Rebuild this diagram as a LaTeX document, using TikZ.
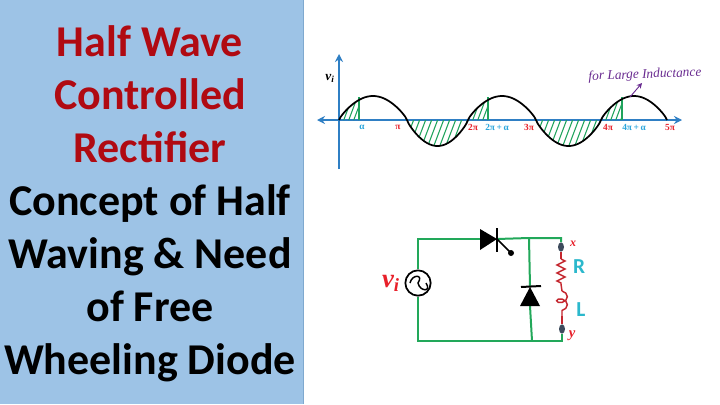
\documentclass[tikz,border=0pt]{standalone}
\usepackage{fontspec}
\setmainfont{Carlito}
\newfontfamily\handfont{Liberation Serif}
\usetikzlibrary{arrows.meta,shapes.geometric,decorations.pathmorphing}
\definecolor{panelBlue}{HTML}{9DC3E6}
\definecolor{panelEdge}{HTML}{7FA9CF}
\definecolor{titleRed}{HTML}{B00A12}
\definecolor{axisBlue}{HTML}{2F7FC4}
\definecolor{hatchGreen}{HTML}{1FA35C}
\definecolor{wireGreen}{HTML}{22A85A}
\definecolor{labelRed}{HTML}{E8202A}
\definecolor{labelBlue}{HTML}{2AA5DC}
\definecolor{labelCyan}{HTML}{2BB8CC}
\definecolor{coilRed}{HTML}{C4262E}
\definecolor{notePurple}{HTML}{6A2C91}
\definecolor{terminalGray}{HTML}{3D4A5C}
\tikzset{
  titleline/.style={font=\fontsize{33}{33}\selectfont\bfseries, inner sep=0pt, anchor=base},
  axisline/.style={axisBlue, line width=1.3pt, {Stealth[length=6pt,width=6pt]}-{Stealth[length=6pt,width=6pt]}},
  wave/.style={black, line width=1.3pt},
  hatchline/.style={hatchGreen, line width=0.8pt},
  tick/.style={font=\handfont\fontsize{7}{7}\selectfont\bfseries, inner sep=0pt},
  wire/.style={wireGreen, line width=1.5pt},
  load/.style={coilRed, line width=1.1pt},
  terminal/.style={draw=none, fill=terminalGray, ellipse, minimum width=4.5pt, minimum height=7pt, inner sep=0pt},
  handlabel/.style={font=\handfont\itshape\bfseries\fontsize{#1}{#1}\selectfont, inner sep=0pt},
  % half-cycle between x=#1 and x=#2 with height #3
  lobe/.style n args={3}{insert path={plot[domain=#1:#2, samples=40] ({\x},{120-#3*pow(abs(sin(180*(\x-#1)/(#2-#1))),0.8)})}},
}
\begin{document}
\begin{tikzpicture}[x=0.75pt, y=-0.75pt]
    \useasboundingbox (0,0) rectangle (720,404);
    \fill[white] (0,0) rectangle (720,404);
    \fill[panelBlue] (0,0) rectangle (303,404);
    \draw[panelEdge, line width=0.6pt] (303,0) -- (303,404);

    % title
    \foreach \i/\ypos/\col/\txt in {1/56/titleRed/Half Wave, 2/109/titleRed/Controlled, 3/162/titleRed/Rectifier,
        4/215/black/Concept of Half, 5/268/black/Waving \& Need, 6/321/black/of Free, 7/374/black/Wheeling Diode}
      \node[titleline, text=\col] (title\i) at (150,\ypos) {\txt};

    % axes
    \coordinate (xleft) at (317,120);
    \coordinate (xright) at (682,120);
    \coordinate (ytop) at (339,54);
    \coordinate (ybot) at (339,169);
    \draw[axisline] (xleft) -- (xright);
    \draw[axisline, -{Stealth[length=6pt,width=6pt]}] (ybot) -- (ytop);
    \node[handlabel=10] (vaxis) at (330,78) {v\textsubscript{i}};

    % hatching, positive parts up to alpha
    \foreach \a/\b/\c in {339/407/359, 468/536/488, 601/667/622} {
      \begin{scope}
        \clip[lobe={\a}{\b}{24}] -- cycle;
        \clip (\a,90) rectangle (\c,120);
        \foreach \s in {0,5,...,35}
          \draw[hatchline] (\a+\s-6,122) -- (\a+\s+6,90);
      \end{scope}
      \draw[hatchline, line width=1pt] (\c,120) -- (\c,97);
    }
    % hatching, negative half cycles
    \foreach \a/\b in {407/468, 536/601} {
      \begin{scope}
        \clip[lobe={\a}{\b}{-26}] -- cycle;
        \foreach \s in {-10,-4,...,70}
          \draw[hatchline] (\a+\s,148) -- (\a+\s+11,119);
      \end{scope}
    }
    % wave
    \foreach \a/\b/\h in {339/407/24, 407/468/-26, 468/536/24, 536/601/-26, 601/667/24}
      \draw[wave, lobe={\a}{\b}{\h}];

    % tick labels
    \node[tick, text=labelBlue] (alpha1) at (362,127) {α};
    \node[tick, text=labelRed] (pi1) at (398,127) {π};
    \node[tick, text=labelRed] (pi2) at (473,127) {2π};
    \node[tick, text=labelBlue] (alpha2) at (497,127) {2π\,+\,α};
    \node[tick, text=labelRed] (pi3) at (529,127) {3π};
    \node[tick, text=labelRed] (pi4) at (608,127) {4π};
    \node[tick, text=labelBlue] (alpha3) at (634,127) {4π\,+\,α};
    \node[tick, text=labelRed] (pi5) at (670,127) {5π};

    % note
    \node[font=\handfont\itshape\fontsize{10}{10}\selectfont, text=notePurple, inner sep=1pt, rotate=2] (note) at (645,75) {for Large Inductance};
    \coordinate (notefoot) at (630,97);
    \coordinate (notetip) at (642,83);
    \draw[notePurple, line width=0.7pt, -{Stealth[length=4pt,width=4pt]}] (notefoot) -- (notetip);

    % circuit
    \node[draw, circle, line width=1.3pt, minimum size=19pt, inner sep=0pt] (source) at (418,283) {};
    \draw[line width=1.1pt] (source.center) ++(-8,0) .. controls +(2,-9) and +(6,-9) .. (source.center) .. controls +(2,9) and +(6,9) .. ++(8,0);
    \node[handlabel=20, text=labelRed] (vi) at (391,283) {v\textsubscript{i}};

    \coordinate (thyA) at (480,239);
    \coordinate (thyK) at (497,239);
    \coordinate (gate) at (511,253);
    \coordinate (topD) at (529,238);
    \coordinate (topR) at (561,238);
    \coordinate (botD) at (532,341);
    \coordinate (botR) at (562,341);
    \coordinate (diodeK) at (530,287);
    \coordinate (diodeA) at (530,306);
    \node[terminal] (termx) at (561,247) {};
    \node[terminal] (termy) at (562,329) {};
    \coordinate (resTop) at (561,259);
    \coordinate (resBot) at (561,284);
    \coordinate (indTop) at (562,291);
    \coordinate (indBot) at (562,316);

    \draw[wire] (source.north) |- (thyA);
    \draw[wire] (thyK) -- (topD) -- (topR) -- (termx);
    \draw[wire] (source.south) |- (botD) -- (botR) -- (termy);
    \draw[wire] (topD) -- (diodeK);
    \draw[wire] (diodeA) -- (botD);

    % thyristor
    \fill (thyA) ++(0,-10) -- (thyK) -- ++(-17,11) -- cycle;
    \draw[line width=1.1pt] (497,228) -- (497,252);
    \draw[line width=1.1pt] (thyK) -- (gate);
    \fill (gate) circle (3);
    % diode
    \fill (diodeK) -- ++(10,19) -- ++(-20,0) -- cycle;
    \draw[line width=1.5pt] (521,287) -- (541,286);

    % load
    \draw[load] (termx) -- (resTop);
    \draw[load, decorate, decoration={zigzag, amplitude=3pt, segment length=6pt}] (resTop) -- (resBot);
    \draw[load] (resBot) -- (indTop);
    \draw[load, decorate, decoration={coil, amplitude=4pt, segment length=6pt, aspect=0.7}] (indTop) -- (indBot);
    \draw[load] (indBot) -- (termy);

    \node[font=\bfseries\fontsize{16}{16}\selectfont, text=labelCyan, inner sep=0pt] (Rlabel) at (579,267) {R};
    \node[font=\bfseries\fontsize{16}{16}\selectfont, text=labelCyan, inner sep=0pt] (Llabel) at (581,310) {L};
    \node[handlabel=9, text=labelRed] (xlabel) at (573,244) {x};
    \node[handlabel=11, text=labelRed] (ylabel) at (572,336) {y};
\end{tikzpicture}
\end{document}
